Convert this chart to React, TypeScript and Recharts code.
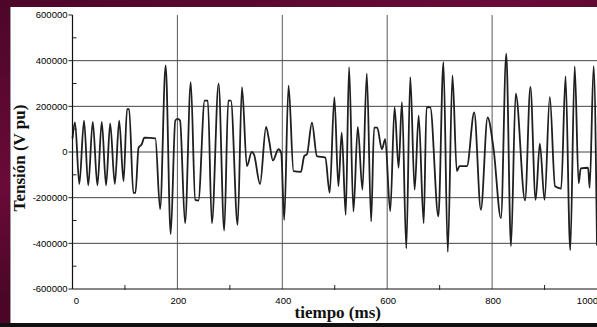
import React from 'react';
import { LineChart, Line, XAxis, YAxis, ReferenceLine, Label } from 'recharts';

// Tension signal (ms, V pu)
const tiempo = [
  0, 4.8, 13, 22, 30, 38.6, 47.5, 55.8, 64, 71.8, 80.7, 89, 97.3, 104, 108, 116, 120, 126, 132, 137, 158,
  167, 177.6, 187.2, 196, 200.6, 205, 214.6, 225.5, 234, 240, 252, 258, 265.7, 278.5, 289.3, 297, 302,
  314.8, 323.1, 332.5, 341.7, 346, 357.6, 369, 375, 382, 392.7, 398, 403.6, 411.9, 421.4, 435.5, 441.8,
  447, 456.5, 466, 482, 490.3, 499.3, 506.9, 513.3, 520.9, 527.3, 535.6, 543.9, 552.8, 561.1, 569.4, 575,
  581, 589.8, 596.2, 605.8, 614.1, 621.7, 628.1, 636.4, 644, 652.3, 660, 669.6, 675, 682, 697.6, 707.2,
  715.5, 724.4, 732.7, 738, 752, 765.9, 778.6, 791.4, 802.9, 816.9, 827, 836, 845, 862.8, 873, 883, 891,
  900, 910, 920, 931.7, 940, 949, 957.5, 965, 969, 983, 986, 993.6, 1000,
];
const tension = [
  60000, 130000, -140000, 137000, -146000, 132000, -146000, 132000, -146000, 125000, -140000, 137000,
  -128000, 188000, 188000, -179000, -179000, 19000, 34000, 63000, 60000,
  -250000, 379000, -360000, 138000, 145000, 138000, -312000, 306000, -210000, -213000, 225000, 225000,
  -312000, 299000, -344000, 225000, 225000,
  -319000, 284000, -62000, 0, -10000, -140000, 110000, 48000, -37000, 12000, -5000, -297000, 291000,
  -84000, -87000, -18000,
  -10000, 129000, -18000, -25000, -179000, 240000, -150000, 85000, -275000, 372000, -260000, 110000,
  -165000, 343000, -304000, 107000,
  107000, 12000, 56000, -260000, 196000, -69000, 218000, -422000, 328000, -165000, 159000, -312000,
  196000, 196000, -282000, 394000,
  -437000, 335000, -84000, -62000, -62000, 173000, -253000, 151000, 12000, -290000, 431000, -412000,
  256000, -212000, 285000, -210000, 37000,
  -210000, 241000, -150000, -160000, 331000, -430000, 375000, -137000, -72000, -69000, -157000, 376000,
  -410000,
];

const xTicks = [0, 200, 400, 600, 800, 1000];
const xMinor = [100, 300, 500, 700, 900];
const yTicks = [-600000, -400000, -200000, 0, 200000, 400000, 600000];
const yMinor = [-500000, -300000, -100000, 100000, 300000, 500000];

const data = tiempo.map((t, i) => ({ t, v: tension[i] }));
const allX = [...xTicks, ...xMinor].sort((a, b) => a - b);
const allY = [...yTicks, ...yMinor].sort((a, b) => a - b);

const tickFont = { fontFamily: 'Liberation Sans, Arial, sans-serif', fontSize: 9.5, fill: '#000' };
const titleFont = { fontFamily: 'Liberation Serif, Times New Roman, serif', fontSize: 17, fontWeight: 700, fill: '#111' };

const BottomTick = (props: any) => {
  const { x, y, payload } = props;
  const v = payload.value;
  if (v % 200 !== 0) return <line x1={x} x2={x} y1={y + 1} y2={y - 4} stroke="#222" />;
  // last label sits against the right border, keep it inside the frame
  const last = v === xTicks[xTicks.length - 1];
  return (
    <g>
      <text
        x={last ? x + 1 : x + (v === 0 ? 4 : 1)}
        y={y + 14.5}
        textAnchor={last ? 'end' : 'middle'}
        {...tickFont}
      >
        {v}
      </text>
    </g>
  );
};

const LeftTick = (props: any) => {
  const { x, y, payload } = props;
  const v = payload.value;
  if (v % 200000 !== 0) return <line x1={x} x2={x + 4} y1={y} y2={y} stroke="#222" />;
  return (
    <g>
      <line x1={x - 4} x2={x} y1={y} y2={y} stroke="#222" />
      <text x={x - 5} y={y} dy="0.35em" textAnchor="end" {...tickFont}>
        {v}
      </text>
    </g>
  );
};

const TopTick = (props: any) => {
  const { x, y, payload } = props;
  if (payload.value % 200 === 0) return <g />;
  return <line x1={x} x2={x} y1={y} y2={y + 4} stroke="#222" />;
};

const RightTick = (props: any) => {
  const { x, y, payload } = props;
  if (payload.value % 200000 === 0) return <g />;
  return <line x1={x} x2={x - 4} y1={y} y2={y} stroke="#222" />;
};

const XTitle = (props: any) => {
  const vb = props.viewBox || { x: 62.5, y: 282, width: 523.5, height: 34 };
  return (
    <text x={vb.x + vb.width / 2 + 3} y={vb.y + 29} textAnchor="middle" {...titleFont}>
      tiempo (ms)
    </text>
  );
};

const YTitle = (props: any) => {
  const vb = props.viewBox || { x: 0, y: 8, width: 62.5, height: 274 };
  const cx = vb.x + 9;
  const cy = vb.y + vb.height / 2 + 6;
  return (
    <text x={cx} y={cy} dy="0.35em" transform={`rotate(-90 ${cx} ${cy})`} textAnchor="middle" {...titleFont}>
      Tensión (V pu)
    </text>
  );
};

export default function App() {
  return (
    <div
      style={{
        position: 'fixed',
        left: 0,
        top: 0,
        width: 597,
        height: 327,
        overflow: 'hidden',
        background: 'linear-gradient(160deg, #4c0628 0%, #6a0a38 35%, #4a0626 55%, #5e0832 100%)',
      }}
    >
      <div style={{ position: 'absolute', left: 10, top: 7, width: 587, height: 316, background: '#fff', borderLeft: '1px solid #999', boxSizing: 'border-box' }}>
        <LineChart width={587} height={316} data={data} margin={{ top: 8, right: 1, bottom: 0, left: -1 }}>
          <XAxis
            xAxisId={0}
            dataKey="t"
            type="number"
            domain={[0, 1000]}
            ticks={allX}
            interval={0}
            height={34}
            tickSize={0}
            tickMargin={0}
            tickLine={false}
            tick={BottomTick}
            axisLine={{ stroke: '#111', strokeWidth: 1.2 }}
          >
            <Label content={XTitle} />
          </XAxis>
          <XAxis
            xAxisId="top"
            orientation="top"
            type="number"
            domain={[0, 1000]}
            ticks={allX}
            interval={0}
            height={0}
            tickSize={0}
            tickMargin={0}
            tickLine={false}
            tick={TopTick}
            axisLine={{ stroke: '#111', strokeWidth: 1.2 }}
          />
          <YAxis
            yAxisId={0}
            type="number"
            domain={[-600000, 600000]}
            ticks={allY}
            interval={0}
            width={62.5}
            tickSize={0}
            tickMargin={0}
            tickLine={false}
            tick={LeftTick}
            axisLine={{ stroke: '#111', strokeWidth: 1.2 }}
          >
            <Label content={YTitle} />
          </YAxis>
          <YAxis
            yAxisId="right"
            orientation="right"
            type="number"
            domain={[-600000, 600000]}
            ticks={allY}
            interval={0}
            width={0}
            tickSize={0}
            tickMargin={0}
            tickLine={false}
            tick={RightTick}
            axisLine={{ stroke: '#555', strokeWidth: 1.2 }}
          />
          {xTicks.slice(1, -1).map((v) => (
            <ReferenceLine key={'x' + v} x={v} stroke="#5a5a5a" strokeWidth={1} />
          ))}
          {yTicks.slice(1, -1).map((v) => (
            <ReferenceLine key={'y' + v} y={v} stroke="#444" strokeWidth={1} />
          ))}
          <Line
            type="monotone"
            dataKey="v"
            stroke="#1f1f1f"
            strokeWidth={1.8}
            dot={false}
            isAnimationActive={false}
          />
        </LineChart>
      </div>
      <div style={{ position: 'absolute', left: 0, top: 323, width: 597, height: 4, background: '#111' }} />
    </div>
  );
}
